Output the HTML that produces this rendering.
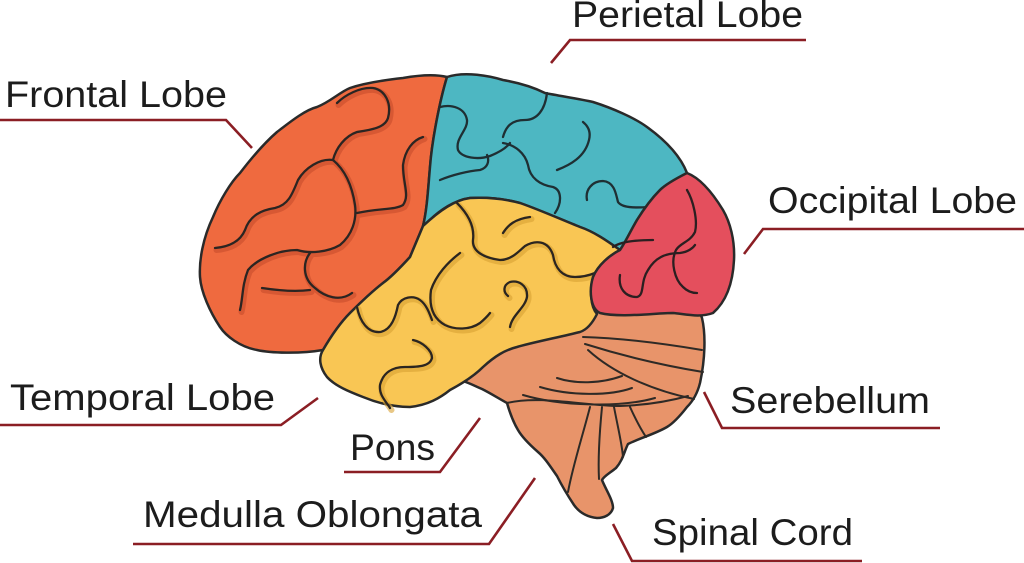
<!DOCTYPE html>
<html>
<head>
<meta charset="utf-8">
<style>
  html,body{margin:0;padding:0;background:#ffffff;}
  body{width:1024px;height:563px;overflow:hidden;}
  svg{display:block;}
  text{font-family:"Liberation Sans", Arial, sans-serif;fill:#1c1c1c;}
</style>
</head>
<body>
<svg width="1024" height="563" viewBox="0 0 1024 563" xmlns="http://www.w3.org/2000/svg">
  <rect width="1024" height="563" fill="#ffffff"/>

  <!-- Cerebellum / brainstem -->
  <path d="M463,381 C466,372 480,355 500,340 C530,320 565,305 597,302 L690,304 C697,310 701,314 702,318 C706,335 705,360 700,383 C697,395 692,402 687,407 C680,416 672,424 667,427 C655,434 640,438 628,444 C624,452 623,460 616,468 C610,473 604,476 602,480 C606,490 613,500 613,508 C611,515 604,518 597,518 C587,517 579,512 574,505 C568,496 562,486 557,476 C550,466 545,458 538,452 C530,445 522,437 518,430 C512,420 509,410 507,403 C498,398 490,393 482,389 C475,386 469,383 463,381 Z"
        fill="#E8946A" stroke="#2a2a2a" stroke-width="2.5" stroke-linejoin="round"/>
  <g fill="none" stroke="#2e2a26" stroke-width="2" stroke-linecap="round">
    <path d="M583,337 C620,338 660,343 702,350"/>
    <path d="M585,344 C620,355 660,365 703,372"/>
    <path d="M588,350 C612,372 650,390 694,399"/>
    <path d="M557,378 C575,384 600,384 622,376"/>
    <path d="M540,387 C570,396 610,396 632,388"/>
    <path d="M523,395 C560,406 620,408 655,398"/>
    <path d="M507,403 C540,395 585,406 620,406 C650,405 670,401 688,396"/>
    <path d="M590,407 C582,438 573,465 568,492"/>
    <path d="M602,407 C599,438 598,460 599,479"/>
    <path d="M614,407 C618,428 622,444 623,457"/>
    <path d="M630,407 C635,418 640,428 646,437"/>
  </g>

  <!-- Frontal lobe -->
  <path d="M447,77 C440,100 432,140 430,167 C428,190 427,210 423,226 L410,257 C400,268 390,278 383,283 C370,293 358,305 350,313 C340,323 330,338 323,350 C300,354 270,353 257,350 C240,347 226,336 220,327 C210,312 201,292 200,277 C199,260 203,238 213,217 C220,200 231,182 240,173 C250,160 262,145 277,132 C290,122 305,110 317,107 C330,102 340,92 350,88 C365,83 385,80 403,78 C420,75 435,74 447,77 Z"
        fill="#EF6A3F" stroke="#2a2a2a" stroke-width="2.5" stroke-linejoin="round"/>
  <g fill="none" stroke-linecap="round">
    <g stroke="#C44A2A" stroke-width="6" opacity="0.55" transform="translate(1.5,2)">
      <path d="M337,103 C345,95 360,87 373,88 C385,90 392,103 388,118 C385,128 370,130 357,132 C345,136 336,148 333,160"/>
      <path d="M333,160 C320,158 305,168 298,180 C292,195 288,205 275,208 C262,210 250,215 245,230 C240,242 228,247 215,248"/>
      <path d="M333,160 C345,170 352,185 355,205 C357,220 352,235 340,245 C328,252 310,254 297,250 C280,250 258,258 248,270 C242,285 243,298 240,310"/>
      <path d="M423,137 C413,140 405,150 403,165 C403,185 410,195 403,205 C395,210 380,208 357,213"/>
      <path d="M310,253 C303,262 302,278 315,288 C325,297 340,302 352,293"/>
      <path d="M262,288 C275,290 295,292 310,290"/>
    </g>
    <g stroke="#2b2522" stroke-width="2.3">
      <path d="M337,103 C345,95 360,87 373,88 C385,90 392,103 388,118 C385,128 370,130 357,132 C345,136 336,148 333,160"/>
      <path d="M333,160 C320,158 305,168 298,180 C292,195 288,205 275,208 C262,210 250,215 245,230 C240,242 228,247 215,248"/>
      <path d="M333,160 C345,170 352,185 355,205 C357,220 352,235 340,245 C328,252 310,254 297,250 C280,250 258,258 248,270 C242,285 243,298 240,310"/>
      <path d="M423,137 C413,140 405,150 403,165 C403,185 410,195 403,205 C395,210 380,208 357,213"/>
      <path d="M310,253 C303,262 302,278 315,288 C325,297 340,302 352,293"/>
      <path d="M262,288 C275,290 295,292 310,290"/>
    </g>
  </g>

  <!-- Parietal lobe -->
  <path d="M447,77 C465,71 490,76 503,80 C520,83 535,88 545,93 C560,96 580,99 593,102 C612,108 635,118 647,127 C665,140 680,155 687,173 C675,180 664,186 660,190 C650,200 642,212 637,220 C630,232 625,243 620,250 C610,243 595,232 580,227 C560,219 540,210 520,203 C505,199 490,197 470,198 C455,200 440,210 430,220 L423,226 C427,210 428,190 430,167 C432,140 440,100 447,77 Z"
        fill="#4DB7C2" stroke="#2a2a2a" stroke-width="2.5" stroke-linejoin="round"/>
  <g fill="none" stroke="#1f2f33" stroke-width="2.3" stroke-linecap="round">
    <path d="M440,107 C452,104 465,108 467,120 C468,130 455,138 458,150 C462,158 478,160 490,156 C500,152 507,147 510,143"/>
    <path d="M440,180 C452,175 468,171 480,170 C487,168 490,162 487,155"/>
    <path d="M503,137 C506,126 512,120 525,120 C537,120 545,110 547,93"/>
    <path d="M503,143 C515,145 525,153 528,165 C530,178 540,185 553,187 C562,190 562,203 555,213"/>
    <path d="M557,170 C570,165 585,157 589,140 C591,132 588,126 583,122"/>
    <path d="M587,200 C585,190 592,181 603,181 C615,182 616,195 618,202 C622,208 635,208 648,207"/>
  </g>

  <!-- Temporal lobe -->
  <path d="M423,226 C440,210 455,200 470,198 C490,197 505,199 520,203 C540,210 560,219 580,227 C595,232 610,243 620,250 C610,255 598,265 593,277 C590,290 590,306 597,314 C592,324 586,330 580,332 C560,337 530,343 517,347 C505,350 495,356 483,367 C475,375 465,382 450,390 C440,398 428,405 410,407 C395,407 380,404 363,397 C350,392 335,386 327,377 C320,368 318,358 323,350 C330,338 340,323 350,313 C358,305 370,293 383,283 C390,278 400,268 410,257 Z"
        fill="#F9C654" stroke="#2a2a2a" stroke-width="2.5" stroke-linejoin="round"/>
  <g fill="none" stroke-linecap="round">
    <g stroke="#D9A234" stroke-width="6" opacity="0.6" transform="translate(1.5,2)">
      <path d="M457,203 C466,212 475,225 473,240 C472,252 485,258 500,260 C512,260 520,250 525,246 C535,240 548,240 553,255 C555,268 562,277 575,277 C583,277 590,275 595,273"/>
      <path d="M503,233 C508,225 515,219 530,217"/>
      <path d="M460,253 C448,262 436,275 431,290 C429,305 432,318 445,325 C455,330 470,330 480,323 C486,318 490,313 490,313"/>
      <path d="M510,327 C512,315 525,308 527,297 C528,285 518,280 510,282 C503,285 503,292 508,296"/>
      <path d="M357,307 C360,322 368,333 380,332 C392,330 396,315 398,305 C402,297 413,295 420,300 C427,305 430,315 432,320"/>
      <path d="M413,340 C422,342 432,350 432,358 C430,366 420,367 405,367 C392,367 383,373 380,385 C379,395 385,400 390,408"/>
    </g>
    <g stroke="#2b2520" stroke-width="2.3">
      <path d="M457,203 C466,212 475,225 473,240 C472,252 485,258 500,260 C512,260 520,250 525,246 C535,240 548,240 553,255 C555,268 562,277 575,277 C583,277 590,275 595,273"/>
      <path d="M503,233 C508,225 515,219 530,217"/>
      <path d="M460,253 C448,262 436,275 431,290 C429,305 432,318 445,325 C455,330 470,330 480,323 C486,318 490,313 490,313"/>
      <path d="M510,327 C512,315 525,308 527,297 C528,285 518,280 510,282 C503,285 503,292 508,296"/>
      <path d="M357,307 C360,322 368,333 380,332 C392,330 396,315 398,305 C402,297 413,295 420,300 C427,305 430,315 432,320"/>
      <path d="M413,340 C422,342 432,350 432,358 C430,366 420,367 405,367 C392,367 383,373 380,385 C379,395 385,400 390,408"/>
    </g>
  </g>

  <!-- Occipital lobe -->
  <path d="M687,173 C700,178 712,192 723,210 C730,222 735,240 734,260 C733,280 728,300 713,313 C700,318 685,314 673,313 C655,313 620,318 600,313 C590,308 589,290 593,277 C598,265 610,255 620,250 C625,243 630,232 637,220 C642,212 650,200 660,190 C665,185 677,178 687,173 Z"
        fill="#E44F5D" stroke="#2a2a2a" stroke-width="2.5" stroke-linejoin="round"/>
  <g fill="none" stroke="#2b1f21" stroke-width="2.3" stroke-linecap="round">
    <path d="M687,190 C693,200 698,220 695,232 C690,242 680,243 676,250 C670,262 675,280 683,287 C688,292 693,293 697,293"/>
    <path d="M620,275 C618,288 625,297 637,297 C645,295 640,282 648,270 C655,258 665,253 680,253 C688,252 693,248 695,245"/>
    <path d="M613,247 C620,242 635,240 653,240"/>
  </g>

  <!-- Connector lines -->
  <g fill="none" stroke="#8B1E24" stroke-width="2.6" stroke-linejoin="miter">
    <path d="M0,120 L226,120 L252,148"/>
    <path d="M551,63 L570,40 L806,40"/>
    <path d="M744,254 L763,229 L1024,229"/>
    <path d="M0,425 L281,425 L318,398"/>
    <path d="M344,472 L440,472 L480,418"/>
    <path d="M133,544 L489,544 L535,478"/>
    <path d="M704,392 L722,428 L940,428"/>
    <path d="M613,524 L632,561 L862,561"/>
  </g>

  <!-- Labels -->
  <g font-size="37">
    <text x="5" y="107" textLength="222" lengthAdjust="spacingAndGlyphs">Frontal Lobe</text>
    <text x="572" y="27" textLength="231" lengthAdjust="spacingAndGlyphs">Perietal Lobe</text>
    <text x="768" y="213" textLength="249" lengthAdjust="spacingAndGlyphs">Occipital Lobe</text>
    <text x="10" y="410" textLength="265" lengthAdjust="spacingAndGlyphs">Temporal Lobe</text>
    <text x="350" y="460" textLength="85" lengthAdjust="spacingAndGlyphs">Pons</text>
    <text x="143" y="527" textLength="339" lengthAdjust="spacingAndGlyphs">Medulla Oblongata</text>
    <text x="730" y="413" textLength="200" lengthAdjust="spacingAndGlyphs">Serebellum</text>
    <text x="652" y="545" textLength="201" lengthAdjust="spacingAndGlyphs">Spinal Cord</text>
  </g>
</svg>
</body>
</html>
